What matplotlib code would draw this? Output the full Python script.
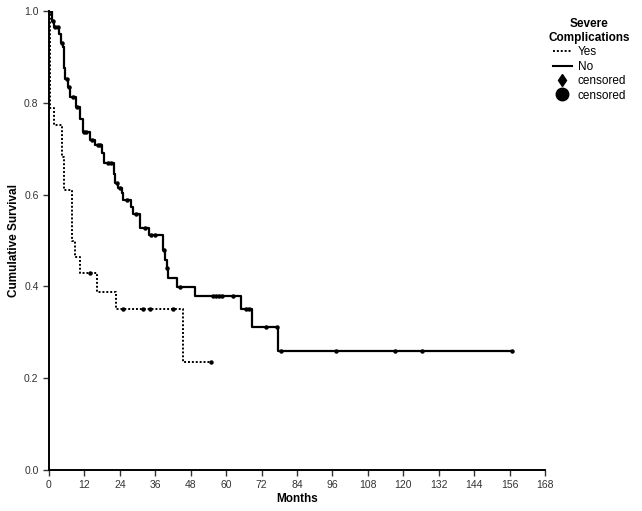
import numpy as np
import matplotlib
matplotlib.use("Agg")
import matplotlib.pyplot as plt
from matplotlib.lines import Line2D

plt.rcParams.update({'font.family': ['Liberation Sans', 'DejaVu Sans'], 'font.size': 8})

# Kaplan-Meier steps: event time (months) -> survival after it
yes_times = [0.0, 0.3, 1.6, 4.4, 5.1, 7.8, 8.8, 10.5, 16.3, 22.7, 45.4]
yes_surv = [1.0, 0.789, 0.752, 0.682, 0.61, 0.50, 0.464, 0.429, 0.388, 0.351, 0.235]
yes_end = 54.8
yes_cens = [13.8, 25.1, 31.8, 34.2, 42.0, 54.8]

no_times = [0.0, 1.0, 1.7, 3.4, 4.1, 4.7, 5.0, 5.2, 5.4, 6.4, 7.1, 9.1, 10.5, 11.4,
            13.9, 15.6, 17.9, 18.5, 22.0, 22.4, 23.4, 24.6, 25.2, 27.8, 28.6, 30.8,
            33.9, 38.5, 39.3, 39.9, 40.2, 43.5, 49.3, 64.9, 68.7, 77.4]
no_surv = [1.0, 0.979, 0.966, 0.951, 0.93, 0.922, 0.90, 0.875, 0.853, 0.835, 0.813,
           0.792, 0.766, 0.737, 0.719, 0.708, 0.69, 0.669, 0.645, 0.625, 0.614, 0.603,
           0.588, 0.574, 0.559, 0.528, 0.512, 0.479, 0.458, 0.44, 0.419, 0.399, 0.379,
           0.35, 0.311, 0.259]
no_end = 156.7
no_cens = [0.4, 1.3, 2.2, 3.0, 4.4, 6.0, 6.8, 8.3, 9.6, 11.8, 12.6, 14.6, 16.6, 17.2,
           20.0, 21.0, 23.0, 24.0, 26.3, 29.5, 32.5, 34.6, 36.0, 39.0, 40.0, 44.3,
           55.6, 56.5, 57.5, 58.5, 62.3, 66.8, 67.6, 73.5, 77.2, 78.6, 97.2, 117.2,
           126.5, 156.7]

xticks = list(range(0, 169, 12))
yticks = [0.0, 0.2, 0.4, 0.6, 0.8, 1.0]


def step_value(times, surv, t):
    i = np.searchsorted(times, t, side='right') - 1
    return np.array(surv)[i]


fig = plt.figure(figsize=(6.42, 5.11), dpi=100)
ax = fig.add_axes([0.0763, 0.0802, 0.7726, 0.898])

ax.plot(yes_times + [yes_end], yes_surv + [yes_surv[-1]], drawstyle='steps-post',
        color='black', lw=1.4, ls=(0, (1, 1)))
ax.plot(no_times + [no_end], no_surv + [no_surv[-1]], drawstyle='steps-post',
        color='black', lw=1.6)
ax.plot(yes_cens, step_value(yes_times, yes_surv, yes_cens), 'o', color='black', ms=2.2, ls='none')
ax.plot(no_cens, step_value(no_times, no_surv, no_cens), 'o', color='black', ms=2.2, ls='none')

ax.set_xlim(0, 168)
ax.set_ylim(0, 1.0)
ax.set_xticks(xticks)
ax.set_yticks(yticks)
ax.set_yticklabels([f"{v:.1f}" for v in yticks])
for s in ['top', 'right']:
    ax.spines[s].set_visible(False)
for s in ['left', 'bottom']:
    ax.spines[s].set_linewidth(1.4)
ax.tick_params(direction='out', length=4, width=1, labelsize=7.5, colors='#333333')
ax.set_xlabel("Months", fontweight='bold', fontsize=8.5, labelpad=2)
ax.set_ylabel("Cumulative Survival", fontweight='bold', fontsize=8.5, labelpad=3)

handles = [Line2D([0], [0], color='black', lw=1.4, ls=(0, (1, 1))),
           Line2D([0], [0], color='black', lw=1.5),
           Line2D([0], [0], marker='d', color='black', ls='none', ms=6),
           Line2D([0], [0], marker='o', color='black', ls='none', ms=9)]
leg = fig.legend(handles, ["Yes", "No", "censored", "censored"],
                 title="Severe\nComplications", loc='upper left',
                 bbox_to_anchor=(0.838, 0.985), frameon=False, fontsize=8.5,
                 handlelength=1.6, handletextpad=0.5, labelspacing=0.2)
leg.get_title().set_fontweight('bold')
leg.get_title().set_fontsize(8.5)
leg.get_title().set_multialignment('center')

fig.savefig("out.png", dpi=100, facecolor='white')
